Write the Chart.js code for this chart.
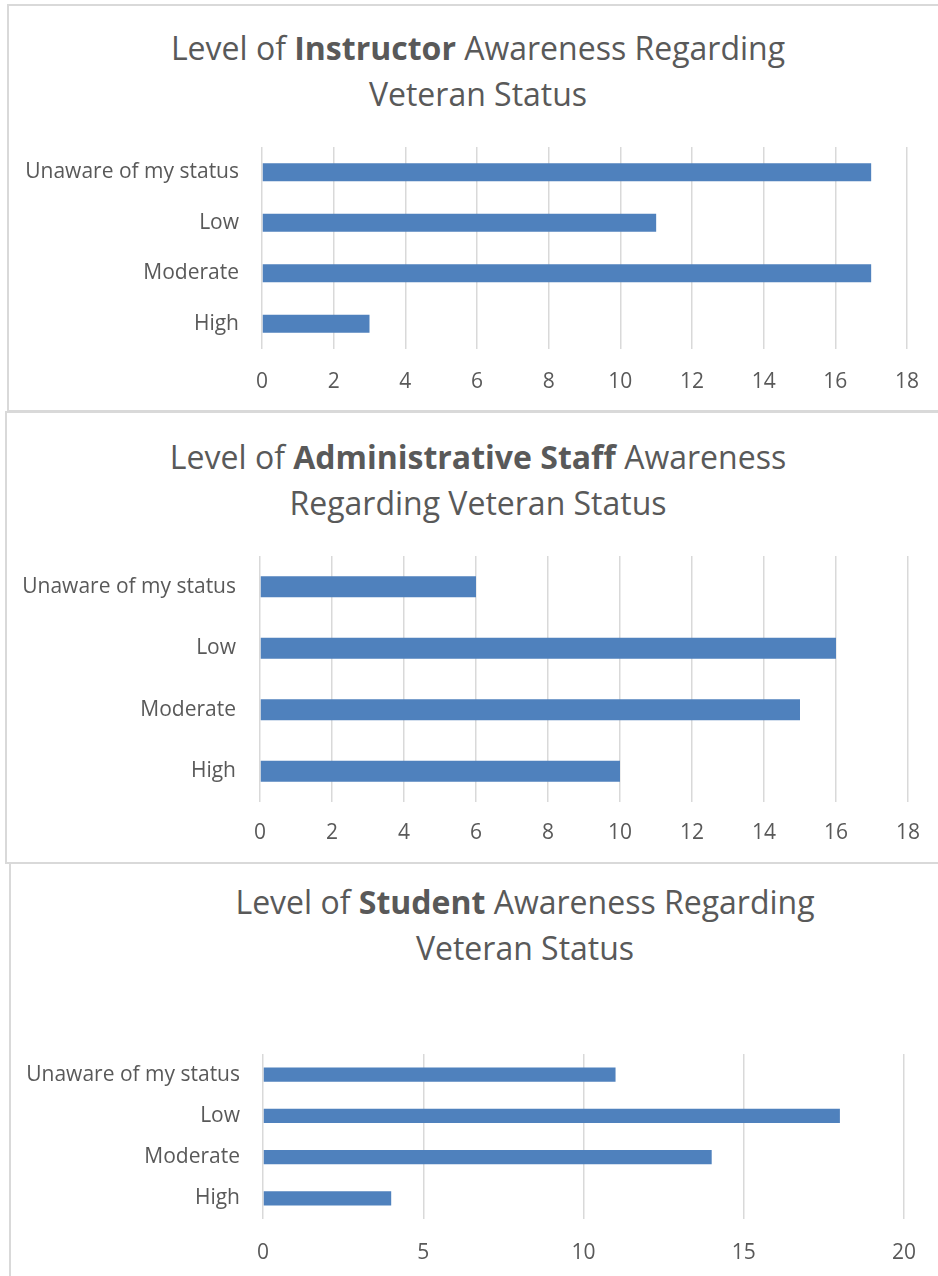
<!DOCTYPE html>
<html>
<head>
<meta charset="utf-8">
<script src="https://cdn.jsdelivr.net/npm/chart.js@4"></script>
<style>
    body { margin: 0; background: #ffffff; width: 938px; height: 1276px; overflow: hidden; position: relative; font-family: "Open Sans", sans-serif; }
    .panel { position: absolute; border: 2px solid #d9d9d9; border-right: none; box-sizing: border-box; }
    .title { position: absolute; text-align: center; color: #595959; font-size: 32px; line-height: 46px; white-space: nowrap; }
    .title b { font-weight: 700; }
    .box { position: absolute; left: 0; width: 938px; }
</style>
</head>
<body>

<div class="panel" style="left:7px; top:4px; width:940px; height:408px;"></div>
<div class="panel" style="left:5px; top:411px; width:940px; height:453px;"></div>
<div class="panel" style="left:9px; top:862px; width:940px; height:430px; border-bottom:none;"></div>

<div class="title" style="left:0; width:956px; top:25px;">Level of <b>Instructor</b> Awareness Regarding<br>Veteran Status</div>
<div class="title" style="left:0; width:956px; top:434px;">Level of <b>Administrative Staff</b> Awareness<br>Regarding Veteran Status</div>
<div class="title" style="left:0; width:1050px; top:879px;">Level of <b>Student</b> Awareness Regarding<br>Veteran Status</div>

<div class="box" style="top:140px; height:260px;"><canvas id="instructorChart"></canvas></div>
<div class="box" style="top:545px; height:305px;"><canvas id="staffChart"></canvas></div>
<div class="box" style="top:1043px; height:233px;"><canvas id="studentChart"></canvas></div>

<script>
// categories, top to bottom as in the picture
var categories = ['Unaware of my status', 'Low', 'Moderate', 'High'];

var instructorValues = [17, 11, 17, 3];
var staffValues = [6, 16, 15, 10];
var studentValues = [11, 18, 14, 4];

var instructorTicks = [0, 2, 4, 6, 8, 10, 12, 14, 16, 18];
var staffTicks = [0, 2, 4, 6, 8, 10, 12, 14, 16, 18];
var studentTicks = [0, 5, 10, 15, 20];

var barColor = '#4f81bd';
var gridColor = '#d9d9d9';
var textColor = '#595959';

function makeChart(id, values, ticks, opts) {
    var ctx = document.getElementById(id).getContext('2d');
    return new Chart(ctx, {
        type: 'bar',
        data: {
            labels: categories,
            datasets: [{
                data: values,
                backgroundColor: barColor,
                borderWidth: 0,
                barPercentage: opts.barPct,
                categoryPercentage: 1
            }]
        },
        options: {
            indexAxis: 'y',
            responsive: true,
            maintainAspectRatio: false,
            animation: false,
            layout: {
                padding: { left: 0, right: opts.right, top: opts.top, bottom: 0 }
            },
            plugins: {
                legend: { display: false },
                tooltip: { enabled: false }
            },
            scales: {
                x: {
                    min: ticks[0],
                    max: ticks[ticks.length - 1],
                    afterBuildTicks: function(scale) {
                        scale.ticks = ticks.map(function(v) { return { value: v }; });
                    },
                    afterFit: function(scale) {
                        scale.height = opts.xHeight;
                        // keep the plot area where the picture has it
                        scale.paddingLeft = 0;
                        scale.paddingRight = 0;
                    },
                    grid: { color: gridColor, lineWidth: 1.5, drawTicks: false },
                    border: { display: false },
                    ticks: {
                        color: textColor,
                        padding: opts.xPad,
                        font: { family: 'Open Sans', size: 21 }
                    }
                },
                y: {
                    afterFit: function(scale) {
                        scale.width = opts.left;
                        scale.paddingTop = 0;
                        scale.paddingBottom = 0;
                    },
                    grid: { display: false, drawTicks: false },
                    border: { display: false },
                    ticks: {
                        color: textColor,
                        padding: opts.yPad,
                        font: { family: 'Open Sans', size: 21 }
                    }
                }
            }
        }
    });
}

makeChart('instructorChart', instructorValues, instructorTicks,
    { left: 262, right: 31, top: 7, xHeight: 51, xPad: 20, yPad: 23, barPct: 0.36 });
makeChart('staffChart', staffValues, staffTicks,
    { left: 260, right: 30, top: 11, xHeight: 48, xPad: 18, yPad: 24, barPct: 0.34 });
makeChart('studentChart', studentValues, studentTicks,
    { left: 263, right: 34, top: 11, xHeight: 57, xPad: 21, yPad: 23, barPct: 0.34 });
</script>
</body>
</html>
